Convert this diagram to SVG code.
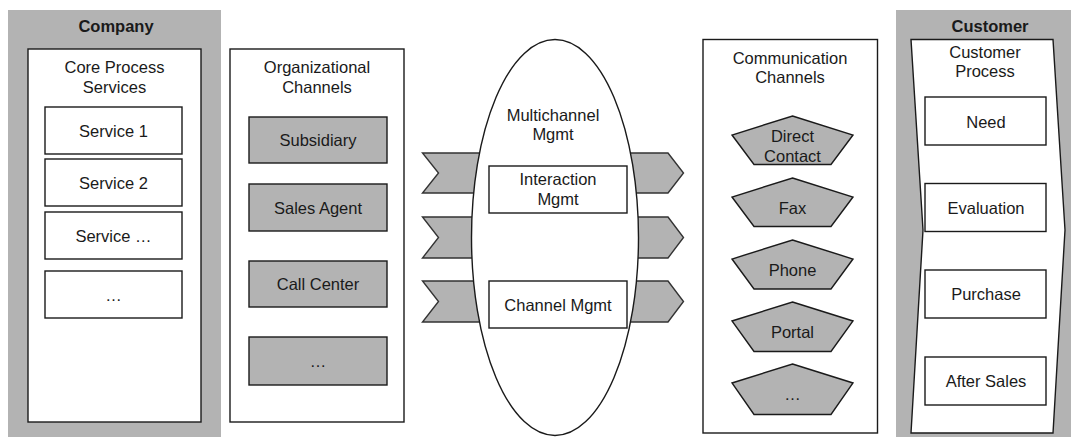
<svg xmlns="http://www.w3.org/2000/svg" width="1071" height="437" viewBox="0 0 1071 437">
  <style>
    .bg { fill: #b3b3b3; stroke: none; }
    .box { fill: #ffffff; stroke: #1a1a1a; stroke-width: 1.4; }
    .gbox { fill: #b3b3b3; stroke: #1a1a1a; stroke-width: 1.4; }
    .chev { fill: #b3b3b3; stroke: #333333; stroke-width: 1.4; stroke-linejoin: miter; }
    text { font-family: "Liberation Sans", Arial, sans-serif; font-size: 16.5px; fill: #1a1a1a; text-anchor: middle; }
    .bold { font-weight: bold; font-size: 16.5px; }
  </style>

  <!-- Company side -->
  <g id="company">
    <rect class="bg" x="8" y="10" width="213" height="427"/>
    <text class="bold" x="116" y="32">Company</text>
  </g>
  <g id="core-process-services">
    <rect class="box" x="28" y="49" width="173" height="373"/>
    <text x="114.5" y="73">Core Process</text>
    <text x="114.5" y="93">Services</text>
  </g>
  <g id="service-1">
    <rect class="box" x="45" y="107" width="137" height="47"/>
    <text x="113.5" y="136.5">Service 1</text>
  </g>
  <g id="service-2">
    <rect class="box" x="45" y="159" width="137" height="47"/>
    <text x="113.5" y="188.5">Service 2</text>
  </g>
  <g id="service-more">
    <rect class="box" x="45" y="212" width="137" height="47"/>
    <text x="113.5" y="241.5">Service …</text>
  </g>
  <g id="service-etc">
    <rect class="box" x="45" y="271" width="137" height="47"/>
    <text x="113.5" y="300.5">…</text>
  </g>

  <!-- Organizational channels -->
  <g id="organizational-channels">
    <rect class="box" x="230" y="49" width="174" height="373"/>
    <text x="317" y="73">Organizational</text>
    <text x="317" y="93">Channels</text>
  </g>
  <g id="subsidiary">
    <rect class="gbox" x="249" y="117" width="138" height="46"/>
    <text x="318" y="146">Subsidiary</text>
  </g>
  <g id="sales-agent">
    <rect class="gbox" x="249" y="184" width="138" height="47"/>
    <text x="318" y="213.5">Sales Agent</text>
  </g>
  <g id="call-center">
    <rect class="gbox" x="249" y="261" width="138" height="46"/>
    <text x="318" y="290">Call Center</text>
  </g>
  <g id="org-etc">
    <rect class="gbox" x="249" y="337" width="138" height="48"/>
    <text x="318" y="367">…</text>
  </g>

  <!-- Flow chevrons passing through multichannel management -->
  <g id="connectors">
    <polygon class="chev" points="422.5,153 668,153 683.5,173 668,193 422.5,193 438.5,173"/>
    <polygon class="chev" points="422.5,217 668,217 683.5,237.5 668,258 422.5,258 438.5,237.5"/>
    <polygon class="chev" points="422.5,281 668,281 683.5,301.5 668,322 422.5,322 438.5,301.5"/>
  </g>

  <!-- Multichannel management -->
  <g id="multichannel-mgmt">
    <ellipse class="box" cx="555" cy="237.5" rx="83.5" ry="198"/>
    <text x="553" y="120.5">Multichannel</text>
    <text x="553" y="140">Mgmt</text>
  </g>
  <g id="interaction-mgmt">
    <rect class="box" x="489" y="166" width="138" height="47"/>
    <text x="558" y="185">Interaction</text>
    <text x="558" y="205">Mgmt</text>
  </g>
  <g id="channel-mgmt">
    <rect class="box" x="489" y="281" width="138" height="47"/>
    <text x="558" y="310.5">Channel Mgmt</text>
  </g>

  <!-- Communication channels -->
  <g id="communication-channels">
    <rect class="box" x="703" y="39.5" width="174.5" height="393.5"/>
    <text x="790" y="63.5">Communication</text>
    <text x="790" y="83">Channels</text>
  </g>
  <g id="direct-contact">
    <polygon class="gbox" points="792.5,116 853,135 831,164.5 754,164.5 732,135"/>
    <text x="792.5" y="141.5">Direct</text>
    <text x="792.5" y="161.5">Contact</text>
  </g>
  <g id="fax">
    <polygon class="gbox" points="792.5,178 853,197 831,226.5 754,226.5 732,197"/>
    <text x="792.5" y="213.5">Fax</text>
  </g>
  <g id="phone">
    <polygon class="gbox" points="792.5,240 853,259 831,289 754,289 732,259"/>
    <text x="792.5" y="276">Phone</text>
  </g>
  <g id="portal">
    <polygon class="gbox" points="792.5,302 853,321 831,351.5 754,351.5 732,321"/>
    <text x="792.5" y="337.5">Portal</text>
  </g>
  <g id="comm-etc">
    <polygon class="gbox" points="792.5,364 853,383 831,414.5 754,414.5 732,383"/>
    <text x="792.5" y="400">…</text>
  </g>

  <!-- Customer side -->
  <g id="customer">
    <rect class="bg" x="896" y="10" width="175" height="427"/>
    <text class="bold" x="990" y="32">Customer</text>
  </g>
  <g id="customer-process">
    <polygon class="box" points="911,39.5 1053,39.5 1065,230 1053,433 911,433 923,230"/>
    <text x="985" y="57.5">Customer</text>
    <text x="985" y="77">Process</text>
  </g>
  <g id="need">
    <rect class="box" x="925" y="97" width="121" height="48"/>
    <text x="986" y="128">Need</text>
  </g>
  <g id="evaluation">
    <rect class="box" x="925" y="183.5" width="121" height="48"/>
    <text x="986" y="213.5">Evaluation</text>
  </g>
  <g id="purchase">
    <rect class="box" x="925" y="270" width="121" height="48"/>
    <text x="986" y="300">Purchase</text>
  </g>
  <g id="after-sales">
    <rect class="box" x="925" y="357" width="121" height="48"/>
    <text x="986" y="387">After Sales</text>
  </g>
</svg>
